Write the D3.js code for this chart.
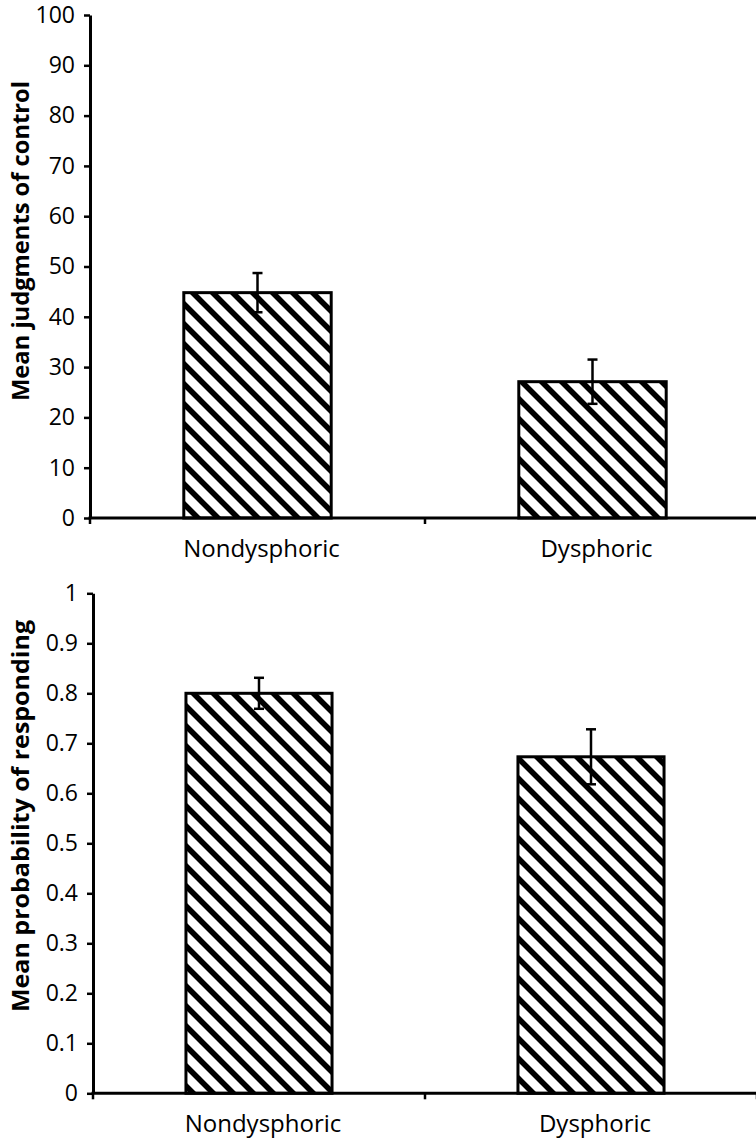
<!DOCTYPE html>
<html>
<head>
<meta charset="utf-8">
<script src="https://cdn.jsdelivr.net/npm/d3@7"></script>
<style>
  body { margin: 0; background: #fff; }
  svg { display: block; font-family: "Open Sans", sans-serif; }
  .tick text { font-size: 23px; fill: #000; }
  .xlabel { font-size: 24px; }
  .ylabel { font-size: 24px; font-weight: bold; }
</style>
</head>
<body>
<svg width="756" height="1139"></svg>
<script>
var categories = ["Nondysphoric", "Dysphoric"];

// top panel: judgments of control
var controlMeans = [44.8, 27.1];
var controlErrors = [3.9, 4.4];
var controlTicks = [0, 10, 20, 30, 40, 50, 60, 70, 80, 90, 100];

// bottom panel: probability of responding
var respondMeans = [0.80, 0.673];
var respondErrors = [0.031, 0.055];
var respondTicks = [0, 0.1, 0.2, 0.3, 0.4, 0.5, 0.6, 0.7, 0.8, 0.9, 1];

var svg = d3.select("svg");

// diagonal hatch
var defs = svg.append("defs");
var pat = defs.append("pattern")
  .attr("id", "hatch")
  .attr("patternUnits", "userSpaceOnUse")
  .attr("width", 20)
  .attr("height", 20);
pat.append("rect").attr("width", 20).attr("height", 20).attr("fill", "#fff");
pat.append("path")
  .attr("d", "M-5,-5L25,25M-5,15L5,25M15,-5L25,5")
  .attr("stroke", "#000")
  .attr("stroke-width", 5.6);

drawPanel({
  means: controlMeans,
  errors: controlErrors,
  ticks: controlTicks,
  domain: [0, 100],
  x0: 90, x1: 760,
  yTop: 15, yBottom: 518,
  label: "Mean judgments of control",
  labelY: 241, labelLen: 320,
  format: function(d){ return d; }
});

drawPanel({
  means: respondMeans,
  errors: respondErrors,
  ticks: respondTicks,
  domain: [0, 1],
  x0: 93, x1: 757,
  yTop: 593.3, yBottom: 1093.3,
  label: "Mean probability of responding",
  labelY: 816, labelLen: 392,
  format: function(d){ return d3.format("")(+d.toFixed(1)); }
});

function drawPanel(p){
  var g = svg.append("g");

  var x = d3.scaleBand()
    .domain(categories)
    .range([p.x0, p.x1])
    .paddingInner(0.56)
    .paddingOuter(0.28);

  var y = d3.scaleLinear()
    .domain(p.domain)
    .range([p.yBottom, p.yTop]);

  // bars
  g.selectAll("rect.bar")
    .data(p.means)
    .enter().append("rect")
    .attr("class", "bar")
    .attr("x", function(d, i){ return x(categories[i]); })
    .attr("y", function(d){ return y(d); })
    .attr("width", x.bandwidth())
    .attr("height", function(d){ return y(0) - y(d); })
    .attr("fill", "url(#hatch)")
    .attr("stroke", "#000")
    .attr("stroke-width", 3);

  // error bars
  var eb = g.selectAll("g.err")
    .data(p.means)
    .enter().append("g")
    .attr("class", "err")
    .attr("stroke", "#000")
    .attr("stroke-width", 2.5);
  eb.append("line")
    .attr("x1", function(d, i){ return x(categories[i]) + x.bandwidth() / 2; })
    .attr("x2", function(d, i){ return x(categories[i]) + x.bandwidth() / 2; })
    .attr("y1", function(d, i){ return y(d + p.errors[i]); })
    .attr("y2", function(d, i){ return y(d - p.errors[i]); });
  [1, -1].forEach(function(s){
    eb.append("line")
      .attr("x1", function(d, i){ return x(categories[i]) + x.bandwidth() / 2 - 5; })
      .attr("x2", function(d, i){ return x(categories[i]) + x.bandwidth() / 2 + 5; })
      .attr("y1", function(d, i){ return y(d + s * p.errors[i]); })
      .attr("y2", function(d, i){ return y(d + s * p.errors[i]); });
  });

  // y axis
  var yAxis = g.append("g")
    .attr("transform", "translate(" + p.x0 + ",0)")
    .call(d3.axisLeft(y).tickValues(p.ticks).tickFormat(p.format)
      .tickSize(6).tickSizeOuter(0).tickPadding(9));
  yAxis.select(".domain").attr("stroke", "#000").attr("stroke-width", 3);
  yAxis.selectAll(".tick line").attr("stroke", "#000").attr("stroke-width", 2.5);
  yAxis.attr("font-size", null).attr("font-family", null);

  // x axis line and boundary ticks
  g.append("line")
    .attr("x1", p.x0 - 1.5).attr("x2", 756)
    .attr("y1", y(0)).attr("y2", y(0))
    .attr("stroke", "#000").attr("stroke-width", 3);
  var bounds = d3.range(categories.length + 1).map(function(i){ return p.x0 + i * x.step(); });
  g.selectAll("line.xt")
    .data(bounds)
    .enter().append("line")
    .attr("class", "xt")
    .attr("x1", function(d){ return d; }).attr("x2", function(d){ return d; })
    .attr("y1", y(0)).attr("y2", y(0) + 6)
    .attr("stroke", "#000").attr("stroke-width", 2.5);

  // category labels
  g.selectAll("text.xlabel")
    .data(categories)
    .enter().append("text")
    .attr("class", "xlabel")
    .attr("x", function(d){ return x(d) + x.bandwidth() / 2 + 4; })
    .attr("y", y(0) + 39)
    .attr("text-anchor", "middle")
    .text(function(d){ return d; });

  // y label
  g.append("text")
    .attr("class", "ylabel")
    .attr("transform", "translate(29," + p.labelY + ") rotate(-90)")
    .attr("text-anchor", "middle")
    .attr("textLength", p.labelLen)
    .attr("lengthAdjust", "spacingAndGlyphs")
    .text(p.label);
}
</script>
</body>
</html>
